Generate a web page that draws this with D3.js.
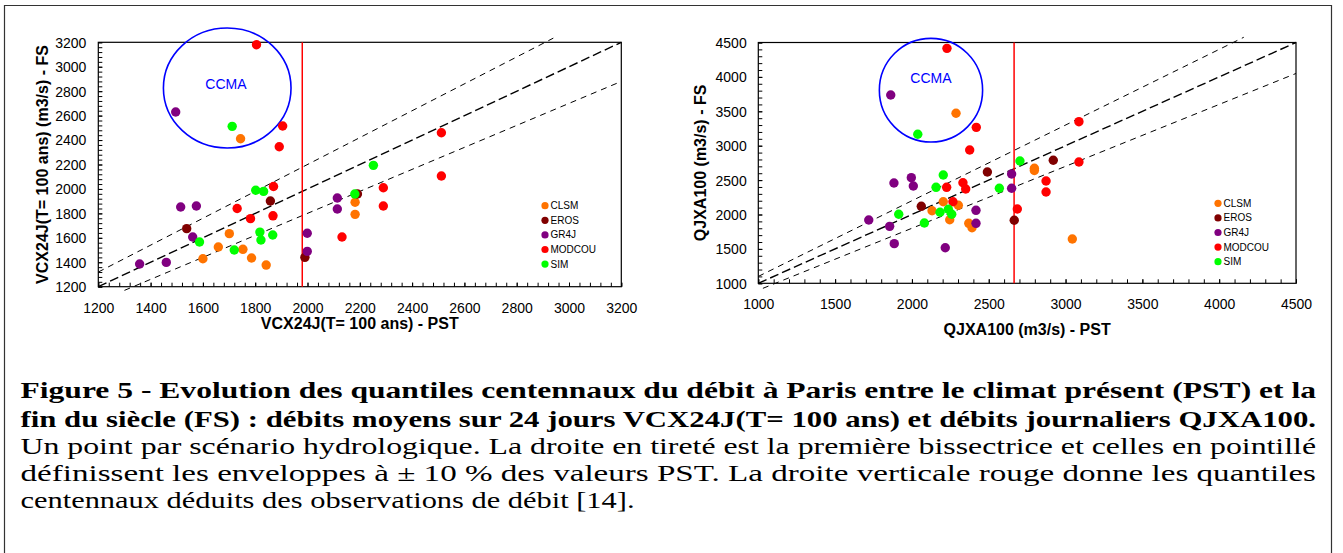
<!DOCTYPE html>
<html><head><meta charset="utf-8">
<script src="https://cdn.jsdelivr.net/npm/d3@7"></script>
<style>
html,body{margin:0;padding:0;background:#fff;}
svg{display:block;}
</style></head>
<body>
<svg id="c" width="1343" height="553"></svg>
<script>
// ---------- DATA ----------
const seriesNames = ["CLSM", "EROS", "GR4J", "MODCOU", "SIM"];

// Left chart: VCX24J(T=100 ans), [PST, FS]
const vcxCLSM = [[1744,2411],[1701,1634],[1659,1525],[1753,1506],[1600,1429],[1786,1435],[1842,1377],[2182,1891],[2182,1792]];
const vcxEROS = [[1538,1675],[1858,1901],[1990,1440],[2191,1959]];
const vcxGR4J = [[1496,2630],[1515,1852],[1575,1860],[1561,1607],[1358,1386],[1460,1399],[1999,1637],[1999,1489],[2114,1926],[2114,1836]];
const vcxMODCOU = [[1805,3180],[1905,2515],[1892,2345],[1870,2020],[1731,1840],[1782,1757],[1868,1780],[2132,1607],[2512,2460],[2512,2106],[2290,2010],[2290,1860]];
const vcxSIM = [[1712,2512],[1802,1989],[1832,1980],[1818,1647],[1822,1582],[1867,1623],[1587,1566],[1720,1500],[2252,2193],[2181,1959]];

// Right chart: QJXA100, [PST, FS]
const qjxCLSM = [[2287,3471],[2204,2186],[2302,2134],[2131,2055],[2246,1924],[2370,1872],[2391,1808],[2797,2672],[2797,2640],[3044,1644]];
const qjxEROS = [[2061,2119],[2491,2618],[2666,1916],[2920,2788]];
const qjxGR4J = [[1862,3737],[1996,2535],[2009,2414],[1883,2458],[1719,1920],[1855,1828],[1885,1576],[2217,1517],[2417,2061],[2417,1872],[2649,2589],[2649,2381]];
const qjxMODCOU = [[2228,4415],[2419,3267],[2376,2938],[2332,2462],[2350,2371],[2226,2395],[2267,2186],[2686,2080],[3087,3349],[3087,2763],[2873,2487],[2873,2327]];
const qjxSIM = [[2038,3166],[2204,2574],[2157,2395],[1914,2003],[2081,1876],[2183,2032],[2237,2076],[2259,2003],[2569,2381],[2703,2778]];

// Axes domains and ticks
const vcxDomain = [1200, 3200];
const vcxTicks = [1200,1400,1600,1800,2000,2200,2400,2600,2800,3000,3200];
const qjxDomain = [1000, 4500];
const qjxTicks = [1000,1500,2000,2500,3000,3500,4000,4500];

// Observed centennial quantiles (vertical red line)
const vcxObs = 1980;
const qjxObs = 2665;

// Envelope lines: [factor, xStart, xEnd]
const vcxLines = [[1.0,1200,3200],[1.1,1200,2940],[0.9,1300,3200]];
const qjxLines = [[1.0,1000,4500],[1.1,1000,4160],[0.9,1030,4500]];

// CCMA ellipse: [cx, cy, rx, ry] in data units, label position
const vcxCCMA = [1693, 2826, 244, 491];
const vcxCCMALabel = [1688, 2860];
const qjxCCMA = [2124, 3807, 336, 753];
const qjxCCMALabel = [2124, 3977];

const titles = {
  vcxX: "VCX24J(T= 100 ans) - PST",
  vcxY: "VCX24J(T= 100 ans) (m3/s) - FS",
  qjxX: "QJXA100 (m3/s) - PST",
  qjxY: "QJXA100 (m3/s) - FS"
};

const captionLines = [
  "Figure 5 - Evolution des quantiles centennaux du débit à Paris entre le climat présent (PST) et la",
  "fin du siècle (FS) : débits moyens sur 24 jours VCX24J(T= 100 ans) et débits journaliers QJXA100.",
  "Un point par scénario hydrologique. La droite en tireté est la première bissectrice et celles en pointillé",
  "définissent les enveloppes à ± 10 % des  valeurs PST. La droite verticale rouge donne  les quantiles",
  "centennaux déduits des observations de débit [14]."
];

// ---------- STYLE ----------
const colors = {CLSM:"#FF7300", EROS:"#800000", GR4J:"#800080", MODCOU:"#FF0000", SIM:"#00FF00"};
const sans = "'Liberation Sans', Arial, sans-serif";

function pickSerif() {
  const cands = ["Liberation Serif", "Times New Roman", "Tinos", "Times", "Nimbus Roman", "Nimbus Roman No9 L", "FreeSerif", "Noto Serif", "DejaVu Serif"];
  const ctx = document.createElement("canvas").getContext("2d");
  const s = "abcdefghijklmnopqrstuvwxyz ABCDEFGHIJ 0123456789";
  const w = f => { ctx.font = "40px " + f; return ctx.measureText(s).width; };
  const wm = w("monospace"), ws = w("sans-serif");
  for (const c of cands) {
    const a = w(`"${c}", monospace`), b = w(`"${c}", sans-serif`);
    if (a !== wm || b !== ws) return { fam: `"${c}", serif`, times: c !== "DejaVu Serif" && c !== "Noto Serif" };
  }
  return { fam: "serif", times: false };
}
const serifPick = pickSerif();
const serif = serifPick.fam;
const capSize = serifPick.times ? 23 : 21.5;

const svg = d3.select("#c");

svg.append("path").attr("d","M4.5,553 L4.5,5.5 L1331.5,5.5 L1331.5,553")
  .attr("fill","none").attr("stroke","#333").attr("stroke-width",1.2);

function drawChart(c) {
  const g = svg.append("g");
  const x = c.x, y = c.y;
  const [x0, x1] = x.range();
  const [yb, yt] = y.range();

  const xMinor = d3.range(c.domain[0], c.domain[1] + 0.001, c.xMinorStep);
  const yMinor = d3.range(c.domain[0], c.domain[1] + 0.001, c.yMinorStep);

  g.append("g").attr("transform", `translate(0,${yb})`)
    .call(d3.axisBottom(x).tickValues(xMinor).tickSize(-4).tickSizeOuter(0).tickFormat(""))
    .call(s => s.select(".domain").remove())
    .call(s => s.selectAll("line").attr("stroke","#000"));
  g.append("g").attr("transform", `translate(${x0},0)`)
    .call(d3.axisLeft(y).tickValues(yMinor).tickSize(-4).tickSizeOuter(0).tickFormat(""))
    .call(s => s.select(".domain").remove())
    .call(s => s.selectAll("line").attr("stroke","#000"));

  const xa = g.append("g").attr("transform", `translate(0,${yb})`)
    .call(d3.axisBottom(x).tickValues(c.ticks).tickSize(-4).tickSizeOuter(0).tickFormat(d3.format("d")));
  xa.select(".domain").remove();
  xa.selectAll("line").attr("stroke","#000");
  xa.selectAll("text").attr("y", c.xLabelOff).attr("dy","0.35em")
    .attr("font-family", sans).attr("font-size", 14).attr("fill","#000");

  const ya = g.append("g").attr("transform", `translate(${x0},0)`)
    .call(d3.axisLeft(y).tickValues(c.ticks).tickSize(-4).tickSizeOuter(0).tickFormat(d3.format("d")));
  ya.select(".domain").remove();
  ya.selectAll("line").attr("stroke","#000");
  ya.selectAll("text").attr("x", -c.yLabelOff).attr("dy","0.35em")
    .attr("font-family", sans).attr("font-size", 14).attr("fill","#000");

  g.append("rect").attr("x", x0).attr("y", yt).attr("width", x1 - x0).attr("height", yb - yt)
    .attr("fill","none").attr("stroke","#000").attr("stroke-width",1.2);

  const line = d3.line().x(d => x(d[0])).y(d => y(d[1]));
  c.lines.forEach(([f, a, b]) => {
    g.append("path").attr("d", line([[a, f*a],[b, f*b]]))
      .attr("fill","none").attr("stroke","#000")
      .attr("stroke-width", f === 1 ? 1.4 : 1)
      .attr("stroke-dasharray", f === 1 ? "9,4" : "6,5");
  });

  g.append("line").attr("x1", x(c.obs)).attr("x2", x(c.obs)).attr("y1", yt).attr("y2", yb)
    .attr("stroke","#FF0000").attr("stroke-width",1.5);

  const [ecx, ecy, erx, ery] = c.ccma;
  g.append("ellipse").attr("cx", x(ecx)).attr("cy", y(ecy))
    .attr("rx", x(ecx + erx) - x(ecx)).attr("ry", y(ecy) - y(ecy + ery))
    .attr("fill","none").attr("stroke","#0000FF").attr("stroke-width",1.6);
  g.append("text").attr("x", x(c.ccmaLabel[0])).attr("y", y(c.ccmaLabel[1]))
    .attr("text-anchor","middle").attr("dy","0.35em")
    .attr("font-family", sans).attr("font-size", 14).attr("fill","#0000FF").text("CCMA");

  c.series.forEach((pts, i) => {
    g.append("g").selectAll("circle").data(pts).join("circle")
      .attr("cx", d => x(d[0])).attr("cy", d => y(d[1])).attr("r", 4.7)
      .attr("fill", colors[seriesNames[i]]);
  });

  seriesNames.forEach((n, i) => {
    const ly = c.legend[1] + i * 14.6;
    g.append("circle").attr("cx", c.legend[0]).attr("cy", ly).attr("r", 3.6).attr("fill", colors[n]);
    g.append("text").attr("x", c.legend[0] + 5.5).attr("y", ly).attr("dy","0.35em")
      .attr("font-family", sans).attr("font-size", 10).attr("fill","#000").text(n);
  });

  g.append("text").attr("x", (x0 + x1) / 2).attr("y", c.xTitleY).attr("dy","0.35em")
    .attr("text-anchor","middle").attr("font-family", sans).attr("font-size", 16)
    .attr("font-weight","bold").text(c.xTitle);
  g.append("text").attr("transform", `translate(${c.yTitleX},${(yt + yb) / 2}) rotate(-90)`)
    .attr("dy","0.35em").attr("text-anchor","middle").attr("font-family", sans).attr("font-size", 16)
    .attr("font-weight","bold").text(c.yTitle);
}

drawChart({
  x: d3.scaleLinear().domain(vcxDomain).range([98.3, 621.3]),
  y: d3.scaleLinear().domain(vcxDomain).range([286.7, 42.3]),
  domain: vcxDomain, ticks: vcxTicks, xMinorStep: 40, yMinorStep: 40,
  xLabelOff: 21.6, yLabelOff: 12,
  lines: vcxLines, obs: vcxObs, ccma: vcxCCMA, ccmaLabel: vcxCCMALabel,
  series: [vcxCLSM, vcxEROS, vcxGR4J, vcxMODCOU, vcxSIM],
  legend: [545, 205.7],
  xTitle: titles.vcxX, xTitleY: 323, yTitle: titles.vcxY, yTitleX: 42
});

drawChart({
  x: d3.scaleLinear().domain(qjxDomain).range([758.3, 1296]),
  y: d3.scaleLinear().domain(qjxDomain).range([283.3, 42.5]),
  domain: qjxDomain, ticks: qjxTicks, xMinorStep: 100, yMinorStep: 100,
  xLabelOff: 20.7, yLabelOff: 11.6,
  lines: qjxLines, obs: qjxObs, ccma: qjxCCMA, ccmaLabel: qjxCCMALabel,
  series: [qjxCLSM, qjxEROS, qjxGR4J, qjxMODCOU, qjxSIM],
  legend: [1218, 203.3],
  xTitle: titles.qjxX, xTitleY: 329.3, yTitle: titles.qjxY, yTitleX: 700
});

const capBase = [398.3, 426.7, 454, 481, 508.3];
const capLen = [1295.5, 1295.5, 1295.5, 1295.5, 614];
captionLines.forEach((t, i) => {
  svg.append("text").attr("x", 20.5).attr("y", capBase[i])
    .attr("font-family", serif).attr("font-size", capSize)
    .attr("font-weight", i < 2 ? "bold" : "normal")
    .attr("textLength", capLen[i]).attr("lengthAdjust", "spacingAndGlyphs")
    .attr("fill","#000").text(t);
});
</script>
</body></html>
